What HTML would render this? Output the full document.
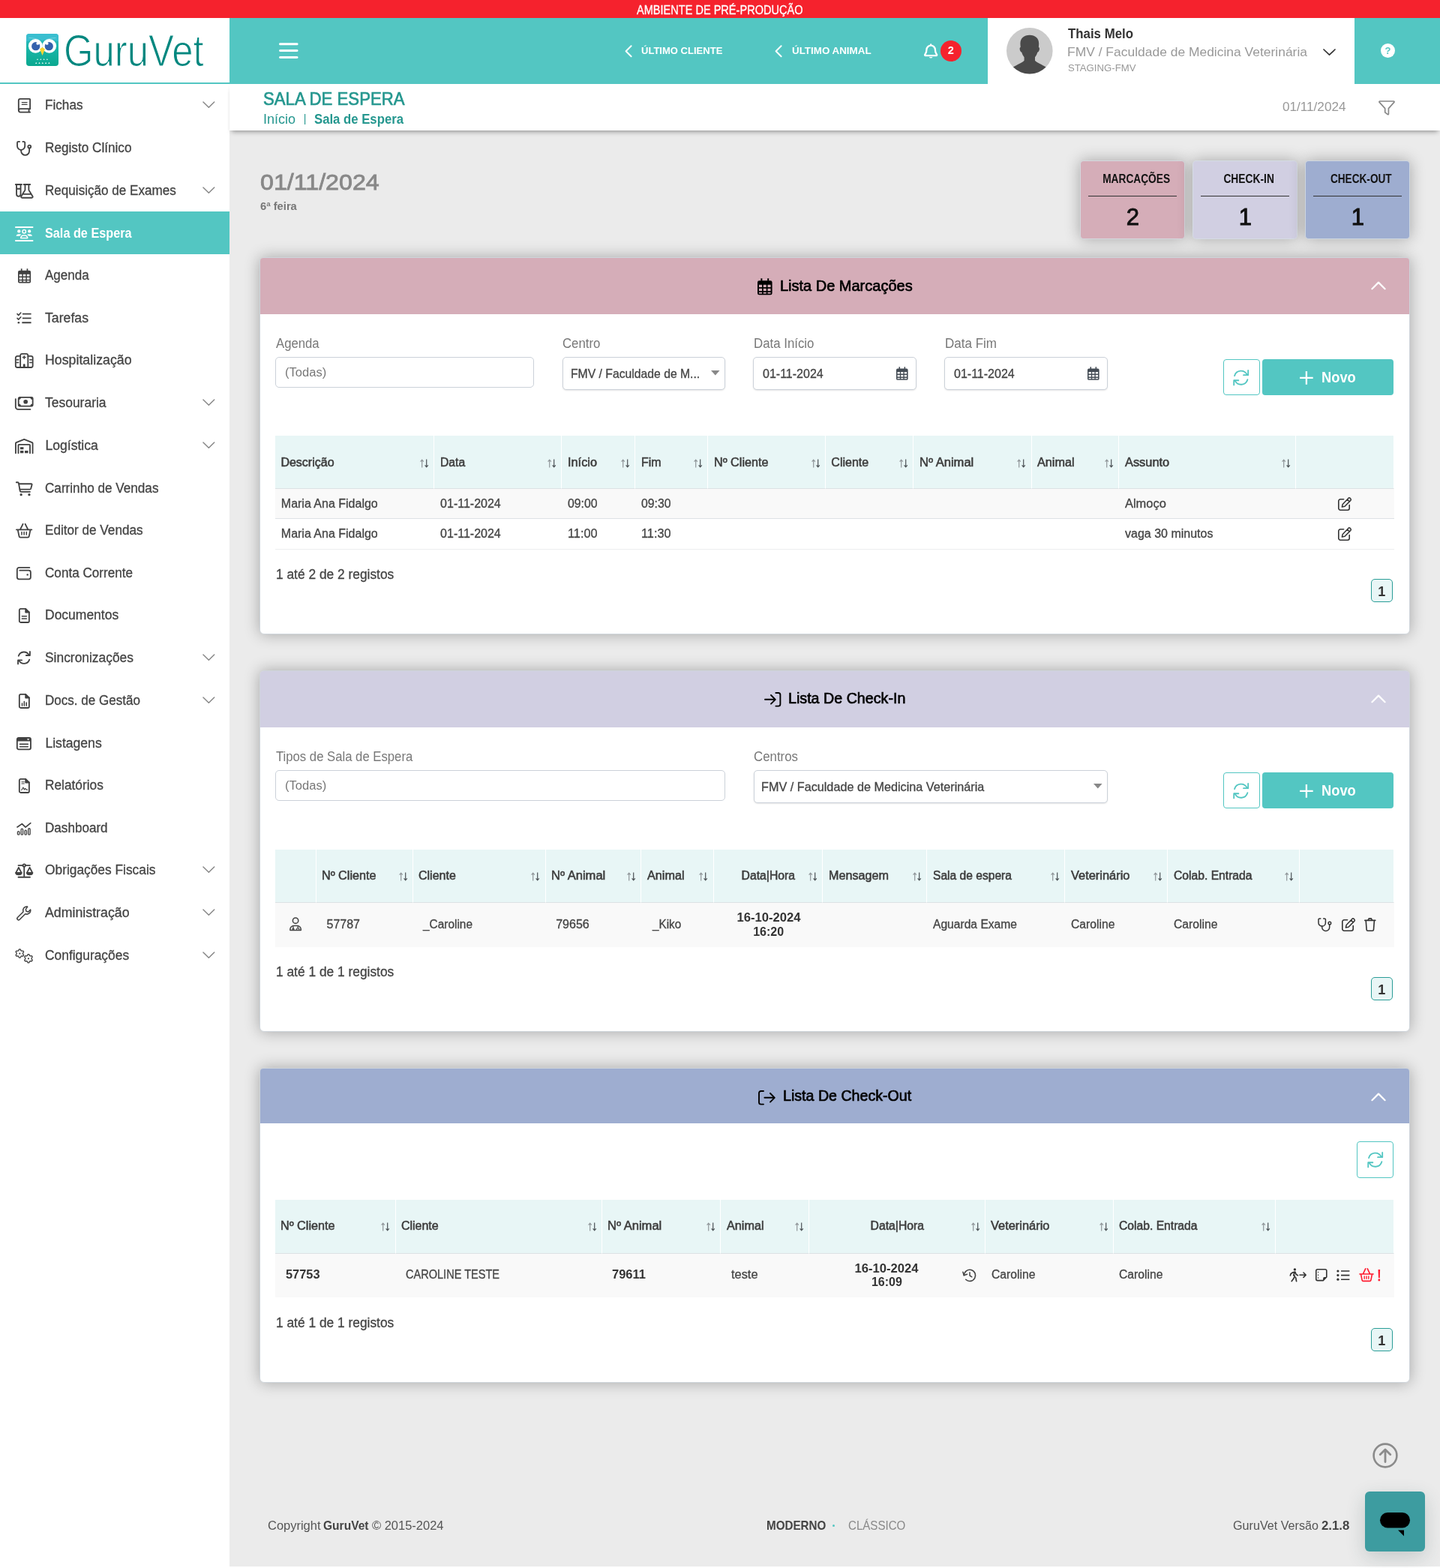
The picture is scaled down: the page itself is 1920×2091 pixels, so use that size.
<!DOCTYPE html>
<html lang="pt">
<head>
<meta charset="utf-8">
<title>GuruVet - Sala de Espera</title>
<style>
*{box-sizing:border-box;margin:0;padding:0}
html,body{width:1920px;height:2091px;overflow:hidden}
body{position:relative;background:#ebebeb;font-family:"Liberation Sans",sans-serif;color:#444}
body *{position:absolute}
.w,colgroup,col,thead,tbody,tr{position:static}
svg{overflow:visible;display:block}
span,a,h1,h2,h3,label,p,button{white-space:nowrap;font-weight:400;text-decoration:none}
ul{list-style:none}
button{border:0;background:none;font:inherit}
.panel{background:#fff;border-radius:6px;border:1px solid #cfd5db;box-shadow:0 0 20px rgba(0,0,0,.3)}
.inp{background:#fff;border:1px solid #cbd1d9;border-radius:5px}
.sel{background:#fff;border:1px solid #cbd1d9;border-radius:5px;box-shadow:0 1px 2px rgba(0,0,0,.10)}
.btn-o{background:#fff;border:1px solid #53c6c2;border-radius:4px}
.btn{background:#53c6c2;border-radius:4px}
table{border-collapse:separate;border-spacing:0;table-layout:fixed;font-size:16px}
th,td{position:relative;padding:0;text-align:left;font-weight:400}
thead th{background:#e8f6f6;border-right:1px solid #fff;border-bottom:1px solid #dbe1e4}
.pg{background:#e8f6f6;border:1px solid #2a9d97;border-radius:5px}
.card{border-radius:5px;border:1px solid rgba(214,222,228,.85);box-shadow:0 0 20px rgba(0,0,0,.3)}
</style>
</head>
<body>
<aside class="w">
<div style="left:0px;top:24px;width:306px;height:2067px;background:#fff;"></div>
<div style="left:0px;top:110px;width:306px;height:2px;background:#53c6c2;"></div>
<svg style="left:35px;top:45px" width="43" height="43" viewBox="0 0 43 43">
<defs><linearGradient id="og" x1="0" y1="0" x2="0" y2="1"><stop offset="0" stop-color="#35bcc9"/><stop offset=".45" stop-color="#19b5a8"/><stop offset="1" stop-color="#0aa88f"/></linearGradient></defs>
<rect x="0" y="0" width="43" height="43" rx="4" fill="url(#og)"/>
<path d="M0 4a4 4 0 0 1 4-4h35a4 4 0 0 1 4 4v6.500C35 7.500 28 7 21.500 9 15 7 8 7.500 0 10.500z" fill="#3bbfd0" opacity=".9"/>
<path d="M3.500 5.500c5 0 11 1 15 4M39.500 5.500c-5 0-11 1-15 4" stroke="#7fd6de" stroke-width="1" fill="none" opacity=".8"/>
<circle cx="12.300" cy="16.300" r="9.400" fill="#fff"/><circle cx="30.700" cy="16.300" r="9.400" fill="#fff"/>
<circle cx="12.700" cy="16.700" r="5.600" fill="#3461ad"/><circle cx="30.300" cy="16.700" r="5.600" fill="#3461ad"/>
<circle cx="15.300" cy="12.900" r="1.900" fill="#fff"/><circle cx="27.700" cy="12.900" r="1.900" fill="#fff"/>
<path d="M18 20.500l3.500-2.500 3.500 2.500-3.500 8.500z" fill="#f7d531"/>
<g fill="#d9f3ee"><path d="M14 35l1-2 1 2zM18.300 35l1-2 1 2zM22.600 35l1-2 1 2zM26.900 35l1-2 1 2zM12 40l1.200-2.200 1.200 2.200zM16.300 40l1.200-2.200 1.200 2.200zM20.600 40l1.200-2.200 1.200 2.200zM24.900 40l1.200-2.200 1.200 2.200zM29.200 40l1.200-2.200 1.200 2.200z"/></g>
</svg>
<a style="left:84.600px;top:33.200px;font-size:60px;line-height:70px;color:#00877f;transform:scaleX(.848);transform-origin:0 0;-webkit-text-stroke:1.200px #fff">GuruVet</a>
<ul class="w">
<li class="w"><svg style="left:23.63px;top:130.81px;color:#414141;" width="16.93" height="19.38" viewBox="0 0 16.6 19" fill="none" stroke="currentColor" stroke-width="1.8" stroke-linecap="round" stroke-linejoin="round"><path d="M15.8 14V1.6a.8.8 0 0 0-.8-.8H3A2.2 2.2 0 0 0 .8 3v13"/><path d="M15.8 13.9H3a2.15 2.15 0 0 0 0 4.3h12.8M14.3 14v4.2"/><path d="M5.2 5.5h6.6M5.2 8.2h6.6" stroke-width="1.3"/></svg><a style="left:60.4px;top:129px;font-size:17.6px;line-height:22px;color:#444;transform:scaleX(0.9742);transform-origin:0 50%;-webkit-text-stroke:0.3px currentColor;">Fichas</a><svg style="left:269.55px;top:134.5px;color:#868686;" width="16.7" height="9.6" viewBox="0 0 17.4 10" fill="none" stroke="currentColor" stroke-width="1.4" stroke-linecap="round" stroke-linejoin="round"><path d="M1 1l7.700 7.600L16.400 1" stroke-width="1.500"/></svg></li>
<li class="w"><svg style="left:21.9px;top:187.61px;color:#414141;" width="20.4" height="19.79" viewBox="0 0 20 19.4" fill="none" stroke="currentColor" stroke-width="1.8" stroke-linecap="round" stroke-linejoin="round"><path d="M4 .9H2.4A1.4 1.4 0 0 0 1 2.3v4.4a5 5 0 0 0 10 0V2.3A1.4 1.4 0 0 0 9.6.9H8.2"/><path d="M6 11.8v1.3a5.4 5.4 0 0 0 10.8 0V9.6"/><circle cx="16.9" cy="7.4" r="1.9"/></svg><a style="left:60.4px;top:186px;font-size:17.6px;line-height:22px;color:#444;transform:scaleX(0.9758);transform-origin:0 50%;-webkit-text-stroke:0.3px currentColor;">Registo Clínico</a></li>
<li class="w"><svg style="left:19.86px;top:244.61px;color:#414141;" width="24.48" height="19.79" viewBox="0 0 24 19.4" fill="none" stroke="currentColor" stroke-width="1.8" stroke-linecap="round" stroke-linejoin="round"><path d="M.8 1h8M2 1v12.8a2.7 2.7 0 0 0 5.4 0V1M2 6.6h5.4"/><path d="M11.4 1h8.4M13.2 1v7.2l-5 8.2a1.3 1.3 0 0 0 1.1 2h12.6a1.3 1.3 0 0 0 1.1-2l-5-8.2V1M10.4 13.6h10.4"/></svg><a style="left:60.4px;top:243px;font-size:17.6px;line-height:22px;color:#444;transform:scaleX(0.9711);transform-origin:0 50%;-webkit-text-stroke:0.3px currentColor;">Requisição de Exames</a><svg style="left:269.55px;top:248.5px;color:#868686;" width="16.7" height="9.6" viewBox="0 0 17.4 10" fill="none" stroke="currentColor" stroke-width="1.4" stroke-linecap="round" stroke-linejoin="round"><path d="M1 1l7.700 7.600L16.400 1" stroke-width="1.500"/></svg></li>
<li class="w"><div style="left:0px;top:282.1px;width:306px;height:56.7px;background:#53c6c2;"></div><svg style="left:19.86px;top:301.5px;color:#fff;" width="24.48" height="19.99" viewBox="0 0 24 19.6" fill="none" stroke="currentColor" stroke-width="1.8" stroke-linecap="round" stroke-linejoin="round"><path d="M.9 1h22.2M.9 18.6h22.2" stroke-width="1.8"/><circle cx="5.2" cy="6.3" r="2.1" fill="currentColor" stroke="none"/><circle cx="18.8" cy="6.3" r="2.1" fill="currentColor" stroke="none"/><circle cx="12" cy="6.6" r="2.2" stroke-width="1.5"/><path d="M1.5 12.6a3 3 0 0 1 3-2.6h2.2a3 3 0 0 1 1.6.5 5 5 0 0 0-2.2 2.1zM22.5 12.6a3 3 0 0 0-3-2.6h-2.2a3 3 0 0 0-1.6.5 5 5 0 0 1 2.2 2.1z" fill="currentColor" stroke="none"/><path d="M7.6 15.2a3.4 3.4 0 0 1 3.3-3.5h2.2a3.4 3.4 0 0 1 3.3 3.5z" stroke-width="1.5"/></svg><a style="left:60.4px;top:300px;font-size:17.6px;line-height:22px;color:#fff;font-weight:700;transform:scaleX(0.9231);transform-origin:0 50%;">Sala de Espera</a></li>
<li class="w"><svg style="left:23.53px;top:357.71px;color:#414141;" width="17.14" height="19.58" viewBox="0 0 16.8 19.2" fill="none" stroke="currentColor" stroke-width="1.8" stroke-linecap="round" stroke-linejoin="round"><path d="M4.6 .3v3M12.2 .3v3" stroke-width="1.7" stroke-linecap="butt"/><path d="M2 2.8h12.8a2 2 0 0 1 2 2v12.4a2 2 0 0 1-2 2H2a2 2 0 0 1-2-2V4.800a2 2 0 0 1 2-2zM1.7 7.6v2.700h3.500V7.600zM6.700 7.600v2.700h3.400V7.600zM11.600 7.600v2.700h3.500V7.600zM1.700 11.800v2.700h3.500v-2.700zM6.700 11.800v2.700h3.400v-2.700zM11.600 11.800v2.700h3.500v-2.700zM1.700 16v1.500h3.500V16zM6.700 16v1.500h3.400V16zM11.600 16v1.500h3.500V16z" fill="currentColor" stroke="none" fill-rule="evenodd"/></svg><a style="left:60.4px;top:356px;font-size:17.6px;line-height:22px;color:#444;transform:scaleX(0.9674);transform-origin:0 50%;-webkit-text-stroke:0.3px currentColor;">Agenda</a></li>
<li class="w"><svg style="left:21.9px;top:416.14px;color:#414141;" width="20.4" height="16.73" viewBox="0 0 20 16.4" fill="none" stroke="currentColor" stroke-width="1.8" stroke-linecap="round" stroke-linejoin="round"><path d="M7.800 2.600H19.200M7.800 8.200H19.200M7.200 14H19.200" stroke-width="1.9" stroke-linecap="butt"/><path d="M1 2.600l1.700 1.700L5.700 1M1 8.200l1.700 1.700L5.700 6.600" stroke-width="1.500"/><circle cx="2.800" cy="14" r="1.300" fill="currentColor" stroke="none"/></svg><a style="left:60.4px;top:413px;font-size:17.6px;line-height:22px;color:#444;transform:scaleX(1.0049);transform-origin:0 50%;-webkit-text-stroke:0.3px currentColor;">Tarefas</a></li>
<li class="w"><svg style="left:19.86px;top:470.61px;color:#414141;" width="24.48" height="19.79" viewBox="0 0 24 19.4" fill="none" stroke="currentColor" stroke-width="1.8" stroke-linecap="round" stroke-linejoin="round"><path d="M7 18.600V3a2.200 2.200 0 0 1 2.200-2.200h5.600A2.200 2.200 0 0 1 17 3v15.600"/><path d="M7 3.800H3A2.200 2.200 0 0 0 .8 6v10.400a2.200 2.200 0 0 0 2.200 2.200h18a2.200 2.200 0 0 0 2.200-2.200V6A2.200 2.200 0 0 0 21 3.800h-4"/><path d="M12 3.600v3.600M10.200 5.400h3.600M2 8.600h2.600M2 12.200h2.600M19.400 8.600H22M19.400 12.200H22" stroke-width="1.500"/><path d="M10.600 18.600v-3.200a1.400 1.400 0 0 1 2.800 0v3.200z" fill="currentColor" stroke="none"/></svg><a style="left:60.4px;top:469px;font-size:17.6px;line-height:22px;color:#444;transform:scaleX(1.01);transform-origin:0 50%;-webkit-text-stroke:0.3px currentColor;">Hospitalização</a></li>
<li class="w"><svg style="left:19.86px;top:528.63px;color:#414141;" width="24.48" height="17.75" viewBox="0 0 24 17.4" fill="none" stroke="currentColor" stroke-width="1.8" stroke-linecap="round" stroke-linejoin="round"><rect x="4.600" y=".8" width="18.600" height="11.600" rx="1.800"/><path d="M.8 3v10.400a3.200 3.200 0 0 0 3.200 3.200h16"/><circle cx="13.900" cy="6.600" r="2.800" fill="currentColor" stroke="none"/><path d="M4.600 .8h3.200a3.200 3.200 0 0 1-3.200 3.200zM23.200 .8H20a3.200 3.200 0 0 0 3.200 3.200zM4.600 12.400h3.200a3.200 3.200 0 0 0-3.200-3.200zM23.200 12.400H20a3.200 3.200 0 0 1 3.200-3.200z" fill="currentColor" stroke="none"/></svg><a style="left:60.4px;top:526px;font-size:17.6px;line-height:22px;color:#444;transform:scaleX(0.993);transform-origin:0 50%;-webkit-text-stroke:0.3px currentColor;">Tesouraria</a><svg style="left:269.55px;top:531.5px;color:#868686;" width="16.7" height="9.6" viewBox="0 0 17.4 10" fill="none" stroke="currentColor" stroke-width="1.4" stroke-linecap="round" stroke-linejoin="round"><path d="M1 1l7.700 7.600L16.400 1" stroke-width="1.500"/></svg></li>
<li class="w"><svg style="left:19.86px;top:584.61px;color:#414141;" width="24.48" height="19.79" viewBox="0 0 24 19.4" fill="none" stroke="currentColor" stroke-width="1.8" stroke-linecap="round" stroke-linejoin="round"><path d="M.9 19V6.200a1.200 1.200 0 0 1 .7-1.100L12 .9l10.400 4.200a1.200 1.200 0 0 1 .7 1.100V19"/><path d="M4.400 19V8.600a.8.800 0 0 1 .8-.8h13.600a.8.800 0 0 1 .8.800V19"/><path d="M6.800 11h4.400v3H6.800zM6.800 15.600h4.400V19H6.800zM12.800 15.600h4.400V19h-4.400z" fill="currentColor" stroke="none"/></svg><a style="left:60.4px;top:583px;font-size:17.6px;line-height:22px;color:#444;-webkit-text-stroke:0.3px currentColor;">Logística</a><svg style="left:269.55px;top:588.5px;color:#868686;" width="16.7" height="9.6" viewBox="0 0 17.4 10" fill="none" stroke="currentColor" stroke-width="1.4" stroke-linecap="round" stroke-linejoin="round"><path d="M1 1l7.700 7.600L16.400 1" stroke-width="1.500"/></svg></li>
<li class="w"><svg style="left:20.98px;top:641.61px;color:#414141;" width="22.24" height="19.79" viewBox="0 0 21.8 19.4" fill="none" stroke="currentColor" stroke-width="1.8" stroke-linecap="round" stroke-linejoin="round"><path d="M.8 1.200h1.800a1.200 1.200 0 0 1 1.200 1l1.800 10.200a1.400 1.400 0 0 0 1.400 1.200h11.600"/><path d="M4.200 3.200h16.200a.8.800 0 0 1 .8 1l-1.400 5.200a1.400 1.400 0 0 1-1.400 1H5.400"/><circle cx="7" cy="17.400" r="1.600" fill="currentColor" stroke="none"/><circle cx="17.600" cy="17.400" r="1.600" fill="currentColor" stroke="none"/></svg><a style="left:60.4px;top:640px;font-size:17.6px;line-height:22px;color:#444;transform:scaleX(0.9738);transform-origin:0 50%;-webkit-text-stroke:0.3px currentColor;">Carrinho de Vendas</a></li>
<li class="w"><svg style="left:20.98px;top:697.61px;color:#414141;" width="22.24" height="19.79" viewBox="0 0 21.8 19.4" fill="none" stroke="currentColor" stroke-width="1.8" stroke-linecap="round" stroke-linejoin="round"><path d="M.9 8.200h20M5.800 8L9.400 .8M16 8L12.400 .8M2.700 8.400l1.700 8.400a1.700 1.700 0 0 0 1.700 1.400h9.600a1.700 1.700 0 0 0 1.700-1.400l1.700-8.400"/><path d="M7.800 11.400v3.400M10.900 11.400v3.400M14 11.400v3.400" stroke-width="1.500"/></svg><a style="left:60.4px;top:696px;font-size:17.6px;line-height:22px;color:#444;transform:scaleX(0.9742);transform-origin:0 50%;-webkit-text-stroke:0.3px currentColor;">Editor de Vendas</a></li>
<li class="w"><svg style="left:22.21px;top:755.93px;color:#414141;" width="19.79" height="17.14" viewBox="0 0 19.4 16.8" fill="none" stroke="currentColor" stroke-width="1.8" stroke-linecap="round" stroke-linejoin="round"><path d="M17 .9H3.400A2.600 2.600 0 0 0 .8 3.500v10A2.500 2.500 0 0 0 3.300 16H16a2.500 2.500 0 0 0 2.500-2.500V7.100A2.500 2.500 0 0 0 16 4.600H4.200"/><circle cx="14.400" cy="10.200" r="1.200" fill="currentColor" stroke="none"/></svg><a style="left:60.4px;top:753px;font-size:17.6px;line-height:22px;color:#444;transform:scaleX(0.9732);transform-origin:0 50%;-webkit-text-stroke:0.3px currentColor;">Conta Corrente</a></li>
<li class="w"><svg style="left:24.76px;top:810.61px;color:#414141;" width="14.69" height="19.79" viewBox="0 0 14.4 19.4" fill="none" stroke="currentColor" stroke-width="1.8" stroke-linecap="round" stroke-linejoin="round"><path d="M9 .8H2.600A1.800 1.800 0 0 0 .8 2.600v14.200a1.800 1.800 0 0 0 1.800 1.800h9.200a1.800 1.800 0 0 0 1.800-1.800V5.400z"/><path d="M9 .8v4.600h4.600z" fill="currentColor" stroke="none"/><path d="M9 .8v4.600h4.600"/><path d="M4.200 10.600h6M4.200 13.800h6" stroke-width="1.400"/></svg><a style="left:60.4px;top:809px;font-size:17.6px;line-height:22px;color:#444;transform:scaleX(0.9939);transform-origin:0 50%;-webkit-text-stroke:0.3px currentColor;">Documentos</a></li>
<li class="w"><svg style="left:23.12px;top:868.32px;color:#414141;" width="17.95" height="18.36" viewBox="0 0 17.6 18" fill="none" stroke="currentColor" stroke-width="1.8" stroke-linecap="round" stroke-linejoin="round"><path d="M1.700 6.600A7.400 7.400 0 0 1 15.400 5.600M15.900 11.400A7.400 7.400 0 0 1 2.200 12.400"/><path d="M16.600 .9v5h-5M1 17.100v-5h5"/></svg><a style="left:60.4px;top:866px;font-size:17.6px;line-height:22px;color:#444;transform:scaleX(0.9887);transform-origin:0 50%;-webkit-text-stroke:0.3px currentColor;">Sincronizações</a><svg style="left:269.55px;top:871.5px;color:#868686;" width="16.7" height="9.6" viewBox="0 0 17.4 10" fill="none" stroke="currentColor" stroke-width="1.4" stroke-linecap="round" stroke-linejoin="round"><path d="M1 1l7.700 7.600L16.400 1" stroke-width="1.500"/></svg></li>
<li class="w"><svg style="left:24.76px;top:924.61px;color:#414141;" width="14.69" height="19.79" viewBox="0 0 14.4 19.4" fill="none" stroke="currentColor" stroke-width="1.8" stroke-linecap="round" stroke-linejoin="round"><path d="M9 .8H2.600A1.800 1.800 0 0 0 .8 2.600v14.200a1.800 1.800 0 0 0 1.800 1.800h9.200a1.800 1.800 0 0 0 1.800-1.800V5.400z"/><path d="M9 .8v4.600h4.600z" fill="currentColor" stroke="none"/><path d="M9 .8v4.600h4.600"/><path d="M4.400 12.800v3M7.200 10.400v5.400M10 11.800v4" stroke-width="1.500"/></svg><a style="left:60.4px;top:923px;font-size:17.6px;line-height:22px;color:#444;transform:scaleX(0.968);transform-origin:0 50%;-webkit-text-stroke:0.3px currentColor;">Docs. de Gestão</a><svg style="left:269.55px;top:928.5px;color:#868686;" width="16.7" height="9.6" viewBox="0 0 17.4 10" fill="none" stroke="currentColor" stroke-width="1.4" stroke-linecap="round" stroke-linejoin="round"><path d="M1 1l7.700 7.600L16.400 1" stroke-width="1.500"/></svg></li>
<li class="w"><svg style="left:22.21px;top:982.93px;color:#414141;" width="19.79" height="17.14" viewBox="0 0 19.4 16.8" fill="none" stroke="currentColor" stroke-width="1.8" stroke-linecap="round" stroke-linejoin="round"><rect x=".8" y=".8" width="17.800" height="15.200" rx="2"/><path d="M.8 2.800a2 2 0 0 1 2-2h13.800a2 2 0 0 1 2 2v2.600H.8z" fill="currentColor" stroke="none"/><path d="M13.600 2.200h3.400l-1.700 1.900z" fill="#fff" stroke="none"/><path d="M4.400 9.200h10.600M4.400 12.600h10.600" stroke-width="1.500"/></svg><a style="left:60.4px;top:980px;font-size:17.6px;line-height:22px;color:#444;-webkit-text-stroke:0.3px currentColor;">Listagens</a></li>
<li class="w"><svg style="left:24.76px;top:1037.61px;color:#414141;" width="14.69" height="19.79" viewBox="0 0 14.4 19.4" fill="none" stroke="currentColor" stroke-width="1.8" stroke-linecap="round" stroke-linejoin="round"><path d="M9 .8H2.600A1.800 1.800 0 0 0 .8 2.600v14.200a1.800 1.800 0 0 0 1.800 1.800h9.200a1.800 1.800 0 0 0 1.800-1.800V5.400z"/><path d="M9 .8v4.600h4.600z" fill="currentColor" stroke="none"/><path d="M9 .8v4.600h4.600"/><path d="M3.800 4.600h3.400M3.800 6.800h3.400" stroke-width="1"/><path d="M3.600 15.400l2.200-3.600 1.400 3 1.200-1.600 1.800 1.600h1.200" stroke-width="1.100"/></svg><a style="left:60.4px;top:1036px;font-size:17.6px;line-height:22px;color:#444;transform:scaleX(0.9819);transform-origin:0 50%;-webkit-text-stroke:0.3px currentColor;">Relatórios</a></li>
<li class="w"><svg style="left:22.21px;top:1095.52px;color:#414141;" width="19.79" height="17.95" viewBox="0 0 19.4 17.6" fill="none" stroke="currentColor" stroke-width="1.8" stroke-linecap="round" stroke-linejoin="round"><path d="M1 6.800l6.200-4.200 4.600 4.400L18.400 1.600" stroke-width="1.700"/><rect x="1.400" y="12.400" width="2.400" height="4.400" rx="1.200" stroke-width="1.300"/><rect x="6" y="9" width="2.400" height="7.800" rx="1.200" stroke-width="1.300"/><rect x="10.800" y="11" width="2.400" height="5.800" rx="1.200" stroke-width="1.300"/><rect x="15.400" y="8.600" width="2.400" height="8.200" rx="1.200" stroke-width="1.300"/></svg><a style="left:60.4px;top:1093px;font-size:17.6px;line-height:22px;color:#444;transform:scaleX(0.9709);transform-origin:0 50%;-webkit-text-stroke:0.3px currentColor;">Dashboard</a></li>
<li class="w"><svg style="left:19.86px;top:1150.61px;color:#414141;" width="24.48" height="19.79" viewBox="0 0 24 19.4" fill="none" stroke="currentColor" stroke-width="1.8" stroke-linecap="round" stroke-linejoin="round"><path d="M4.400 3h5.800M13.800 3h5.800M4.400 18.400h15.200M12 4.800v13.600"/><circle cx="12" cy="3" r="1.700"/><path d="M4.800 5.800L1.200 12.600M4.800 5.800l3.600 6.800M19.200 5.800l-3.600 6.800M19.200 5.800l3.600 6.800"/><path d="M.8 12.400h8a4 2.900 0 0 1-8 0zM15.200 12.400h8a4 2.900 0 0 1-8 0z" fill="currentColor" stroke="none"/><path d="M.8 12.400h8a4 2.900 0 0 1-8 0zM15.200 12.400h8a4 2.900 0 0 1-8 0z" stroke-width="1.200"/></svg><a style="left:60.4px;top:1149px;font-size:17.6px;line-height:22px;color:#444;transform:scaleX(0.9856);transform-origin:0 50%;-webkit-text-stroke:0.3px currentColor;">Obrigações Fiscais</a><svg style="left:269.55px;top:1154.5px;color:#868686;" width="16.7" height="9.6" viewBox="0 0 17.4 10" fill="none" stroke="currentColor" stroke-width="1.4" stroke-linecap="round" stroke-linejoin="round"><path d="M1 1l7.700 7.600L16.400 1" stroke-width="1.500"/></svg></li>
<li class="w"><svg style="left:22.21px;top:1207.61px;color:#414141;" width="19.79" height="19.79" viewBox="0 0 19.4 19.4" fill="none" stroke="currentColor" stroke-width="1.8" stroke-linecap="round" stroke-linejoin="round"><path d="M14.400 1.100a5 5 0 0 0-5.600 6.700L1.400 15.200a1.900 1.900 0 0 0 2.700 2.700l7.400-7.400a5 5 0 0 0 6.800-5.500l-2.900 2.900-2.600-.7-.7-2.600z" stroke-width="1.500"/></svg><a style="left:60.4px;top:1206px;font-size:17.6px;line-height:22px;color:#444;transform:scaleX(1.0097);transform-origin:0 50%;-webkit-text-stroke:0.3px currentColor;">Administração</a><svg style="left:269.55px;top:1211.5px;color:#868686;" width="16.7" height="9.6" viewBox="0 0 17.4 10" fill="none" stroke="currentColor" stroke-width="1.4" stroke-linecap="round" stroke-linejoin="round"><path d="M1 1l7.700 7.600L16.400 1" stroke-width="1.500"/></svg></li>
<li class="w"><svg style="left:19.66px;top:1264.5px;color:#414141;" width="24.89" height="19.99" viewBox="0 0 24.4 19.6" fill="none" stroke="currentColor" stroke-width="1.8" stroke-linecap="round" stroke-linejoin="round"><path d="M5.47 0.85L6.93 0.85L7.79 2.57L8.72 3.11L10.64 2.99L11.37 4.26L10.31 5.86L10.31 6.94L11.37 8.54L10.64 9.81L8.72 9.69L7.79 10.23L6.93 11.95L5.47 11.95L4.61 10.23L3.68 9.69L1.76 9.81L1.03 8.54L2.09 6.94L2.09 5.86L1.03 4.26L1.76 2.99L3.68 3.11L4.61 2.57z" stroke-width="1.3" stroke-linejoin="round"/><circle cx="6.20" cy="6.40" r="1.10" fill="currentColor" stroke="none"/><path d="M16.87 7.45L18.33 7.45L19.19 9.17L20.12 9.71L22.04 9.59L22.77 10.86L21.71 12.46L21.71 13.54L22.77 15.14L22.04 16.41L20.12 16.29L19.19 16.83L18.33 18.55L16.87 18.55L16.01 16.83L15.08 16.29L13.16 16.41L12.43 15.14L13.49 13.54L13.49 12.46L12.43 10.86L13.16 9.59L15.08 9.71L16.01 9.17z" stroke-width="1.3" stroke-linejoin="round"/><circle cx="17.60" cy="13.00" r="1.10" fill="currentColor" stroke="none"/></svg><a style="left:60.4px;top:1263px;font-size:17.6px;line-height:22px;color:#444;transform:scaleX(0.9878);transform-origin:0 50%;-webkit-text-stroke:0.3px currentColor;">Configurações</a><svg style="left:269.55px;top:1268.5px;color:#868686;" width="16.7" height="9.6" viewBox="0 0 17.4 10" fill="none" stroke="currentColor" stroke-width="1.4" stroke-linecap="round" stroke-linejoin="round"><path d="M1 1l7.700 7.600L16.400 1" stroke-width="1.500"/></svg></li>
</ul>
</aside>
<div class="w">
<div style="left:306px;top:112px;width:1614px;height:62px;background:#fff;box-shadow:0 5px 6px -3px rgba(0,0,0,.34),0 1px 3px rgba(0,0,0,.03);"></div>
<h1 style="left:351.3px;top:116px;font-size:24.5px;line-height:31px;color:#25978f;transform:scaleX(0.9047);transform-origin:0 50%;-webkit-text-stroke:0.7px currentColor;">SALA DE ESPERA</h1>
<a style="left:350.9px;top:147px;font-size:18px;line-height:24px;color:#25978f;">Início</a>
<span style="left:404.8px;top:149.4px;font-size:14px;line-height:18px;color:#25978f;">|</span>
<span style="left:419px;top:147px;font-size:18px;line-height:24px;color:#25978f;font-weight:700;transform:scaleX(0.9291);transform-origin:0 50%;">Sala de Espera</span>
<span style="left:1710px;top:131px;font-size:16.5px;line-height:22px;color:#999;transform:scaleX(1.0386);transform-origin:0 50%;">01/11/2024</span>
<svg style="left:1838.2px;top:133.9px;color:#888;" width="22" height="19.6" viewBox="0 0 22 19.6" fill="none" stroke="currentColor" stroke-width="1.7" stroke-linecap="round" stroke-linejoin="round"><path d="M1.800 1h18.400a.8.800 0 0 1 .6 1.400l-7.400 8.200v7.400a.7.700 0 0 1-1.100.6l-3.200-2.400a.9.900 0 0 1-.4-.7v-4.900L1.200 2.400A.8.800 0 0 1 1.800 1z" stroke-width="1.700"/></svg>
</div>
<header class="w">
<div style="left:306px;top:24px;width:1614px;height:88px;background:#53c6c2;"></div>
<svg style="left:371.9px;top:57.2px;color:#fff;" width="25.6" height="21.2" viewBox="0 0 25.6 21.2" fill="none" stroke="currentColor" stroke-width="3" stroke-linecap="round" stroke-linejoin="round"><path d="M1.500 1.700h22.600M1.500 10.600h22.600M1.500 19.500h22.600" stroke-width="3"/></svg>
<svg style="left:832.8px;top:59.8px;color:#fff;" width="10" height="16.4" viewBox="0 0 10 16.4" fill="none" stroke="currentColor" stroke-width="2" stroke-linecap="round" stroke-linejoin="round"><path d="M8.600 1.200L1.600 8.200l7 7" stroke-width="2"/></svg>
<a style="left:855.4px;top:59px;font-size:13.6px;line-height:17px;color:#fff;font-weight:700;transform:scaleX(0.9587);transform-origin:0 50%;">ÚLTIMO CLIENTE</a>
<svg style="left:1033.2px;top:59.8px;color:#fff;" width="10" height="16.4" viewBox="0 0 10 16.4" fill="none" stroke="currentColor" stroke-width="2" stroke-linecap="round" stroke-linejoin="round"><path d="M8.600 1.200L1.600 8.200l7 7" stroke-width="2"/></svg>
<a style="left:1055.8px;top:59px;font-size:13.6px;line-height:17px;color:#fff;font-weight:700;transform:scaleX(0.9845);transform-origin:0 50%;">ÚLTIMO ANIMAL</a>
<svg style="left:1231.53px;top:57.5px;color:#fff;" width="18.33" height="20.6" viewBox="0 0 17.8 20" fill="none" stroke="currentColor" stroke-width="1.9" stroke-linecap="round" stroke-linejoin="round"><path d="M8.900 1.400v1.200M8.900 2.600a5.600 5.600 0 0 0-5.600 5.600c0 3.800-1.200 5-2 6a.8.800 0 0 0 .6 1.400h14a.8.800 0 0 0 .6-1.400c-.8-1-2-2.200-2-6a5.600 5.600 0 0 0-5.600-5.600z" stroke-width="2.200"/><path d="M6.700 17.400a2.300 2.300 0 0 0 4.400 0z" fill="currentColor" stroke="none"/></svg>
<div style="left:1254px;top:53.9px;width:28px;height:28px;background:#f5222d;border-radius:50%;"></div>
<span style="left:1263.77px;top:57.4px;font-size:14.5px;line-height:20px;color:#fff;font-weight:700;">2</span>
<div style="left:1317px;top:24px;width:489px;height:88px;background:#fff;"></div>
<svg style="left:1342.300px;top:37.100px" width="61.600" height="61.600" viewBox="0 0 61.600 61.600"><defs><clipPath id="av"><circle cx="30.800" cy="30.800" r="30.800"/></clipPath></defs><circle cx="30.800" cy="30.800" r="30.800" fill="#cbcbcb"/><g clip-path="url(#av)" fill="#4a4a4a"><path d="M30.800 9.800c-7.400 0-12.600 4.200-12.400 11.600l.3 4.600c-1.200.6-1.300 2.200-.8 3.800.5 1.800 1.400 2.800 2.400 3 .6 2.600 1.800 4.800 3.300 6.400v4.600c-3 3.400-9.400 5.400-14.600 8.600V64h43.600V52.400c-5.200-3.200-11.600-5.200-14.600-8.600v-4.600c1.500-1.600 2.700-3.800 3.300-6.400 1-.2 1.900-1.200 2.400-3 .5-1.600.4-3.200-.8-3.800l.3-4.600c.2-7.400-5-11.600-12.400-11.600z"/></g></svg>
<span style="left:1424.3px;top:33px;font-size:18px;line-height:24px;color:#333;font-weight:700;transform:scaleX(0.9353);transform-origin:0 50%;">Thais Melo</span>
<span style="left:1423.2px;top:58px;font-size:17px;line-height:23px;color:#999;transform:scaleX(1.0262);transform-origin:0 50%;">FMV / Faculdade de Medicina Veterinária</span>
<span style="left:1423.6px;top:82px;font-size:13.4px;line-height:17px;color:#999;transform:scaleX(0.9831);transform-origin:0 50%;">STAGING-FMV</span>
<svg style="left:1763.8px;top:64.5px;color:#333;" width="17" height="9.4" viewBox="0 0 17 9.4" fill="none" stroke="currentColor" stroke-width="1.7" stroke-linecap="round" stroke-linejoin="round"><path d="M1 1l7.500 7.200L16 1" stroke-width="1.700"/></svg>
<div style="left:1840.7px;top:58.1px;width:19.4px;height:19.4px;background:#fff;border-radius:50%;"></div>
<span style="left:1846.43px;top:59.4px;font-size:13px;line-height:17px;color:#53c6c2;font-weight:700;">?</span>
</header>
<div class="w">
<div style="left:0px;top:0px;width:1920px;height:24px;background:#f5222d;"></div><span style="left:849px;top:2px;font-size:17px;line-height:23px;color:#fff;transform:scaleX(0.8558);transform-origin:0 50%;-webkit-text-stroke:0.3px currentColor;">AMBIENTE DE PRÉ-PRODUÇÃO</span>
</div>
<main class="w">
<h2 style="left:347px;top:223.8px;font-size:29.2px;line-height:38px;color:#888;transform:scaleX(1.103);transform-origin:0 50%;-webkit-text-stroke:0.8px currentColor;">01/11/2024</h2>
<span style="left:346.6px;top:265px;font-size:14.5px;line-height:20px;color:#777;font-weight:700;transform:scaleX(1.0148);transform-origin:0 50%;">6ª feira</span>
<div class="w">
<div class="card" style="left:1440.3px;top:214.3px;width:140px;height:104.6px;background:#d5adb8;"></div><span style="left:1464.07px;top:228px;font-size:15.6px;line-height:21px;color:#111;font-weight:700;transform:scaleX(0.88);transform-origin:50% 50%;">MARCAÇÕES</span><div style="left:1451.3px;top:260.8px;width:118px;height:1px;background:#333;"></div><span style="left:1501.68px;top:270px;font-size:31px;line-height:39px;color:#111;-webkit-text-stroke:0.9px currentColor;">2</span>
</div>
<div class="w">
<div class="card" style="left:1590.3px;top:214.3px;width:140px;height:104.6px;background:#d1cfe2;"></div><span style="left:1626.77px;top:228px;font-size:15.6px;line-height:21px;color:#111;font-weight:700;transform:scaleX(0.8851);transform-origin:50% 50%;">CHECK-IN</span><div style="left:1601.3px;top:260.8px;width:118px;height:1px;background:#333;"></div><span style="left:1651.68px;top:270px;font-size:31px;line-height:39px;color:#111;-webkit-text-stroke:0.9px currentColor;">1</span>
</div>
<div class="w">
<div class="card" style="left:1740.3px;top:214.3px;width:140px;height:104.6px;background:#9eadd0;"></div><span style="left:1767.9px;top:228px;font-size:15.6px;line-height:21px;color:#111;font-weight:700;transform:scaleX(0.874);transform-origin:50% 50%;">CHECK-OUT</span><div style="left:1751.3px;top:260.8px;width:118px;height:1px;background:#333;"></div><span style="left:1801.68px;top:270px;font-size:31px;line-height:39px;color:#111;-webkit-text-stroke:0.9px currentColor;">1</span>
</div>
<section class="w">
<div class="panel" style="left:346.3px;top:343.3px;width:1533.7px;height:503px;"></div><div style="left:347.3px;top:344.3px;width:1531.7px;height:74.4px;background:#d5adb8;border-radius:4px 4px 0 0;"></div><svg style="left:1010.01px;top:370.62px;color:#000;" width="19.57" height="22.37" viewBox="0 0 16.8 19.2" fill="none" stroke="currentColor" stroke-width="1.6" stroke-linecap="round" stroke-linejoin="round"><path d="M4.6 .3v3M12.2 .3v3" stroke-width="1.7" stroke-linecap="butt"/><path d="M2 2.8h12.8a2 2 0 0 1 2 2v12.4a2 2 0 0 1-2 2H2a2 2 0 0 1-2-2V4.800a2 2 0 0 1 2-2zM1.7 7.6v2.700h3.500V7.600zM6.700 7.600v2.700h3.400V7.600zM11.600 7.600v2.700h3.500V7.600zM1.700 11.800v2.700h3.500v-2.700zM6.700 11.800v2.700h3.400v-2.700zM11.600 11.800v2.700h3.500v-2.700zM1.700 16v1.500h3.500V16zM6.700 16v1.500h3.400V16zM11.600 16v1.500h3.500V16z" fill="currentColor" stroke="none" fill-rule="evenodd"/></svg><h3 style="left:1039.9px;top:368px;font-size:20px;line-height:26px;color:#000;-webkit-text-stroke:0.65px currentColor;">Lista De Marcações</h3><svg style="left:1827.8px;top:374.8px;color:#fff;" width="20" height="11.6" viewBox="0 0 20 11.6" fill="none" stroke="currentColor" stroke-width="2.1" stroke-linecap="round" stroke-linejoin="round"><path d="M1.400 10.200L10 1.600l8.600 8.600" stroke-width="2.200"/></svg>
<label style="left:367.7px;top:447px;font-size:17.6px;line-height:22px;color:#787878;transform:scaleX(0.9492);transform-origin:0 50%;">Agenda</label>
<div class="inp" style="left:367.3px;top:476.3px;width:344.4px;height:40.4px;"></div><span style="left:379.7px;top:486px;font-size:16px;line-height:21px;color:#777;transform:scaleX(1.0346);transform-origin:0 50%;">(Todas)</span>
<label style="left:750.4px;top:447px;font-size:17.6px;line-height:22px;color:#787878;transform:scaleX(0.9541);transform-origin:0 50%;">Centro</label>
<div class="sel" style="left:750.3px;top:476.3px;width:216.5px;height:43.5px;"></div><span style="left:761.1px;top:487px;font-size:16.4px;line-height:22px;color:#444;transform:scaleX(0.9596);transform-origin:0 50%;-webkit-text-stroke:0.3px currentColor;">FMV / Faculdade de M...</span><svg style="left:948.2px;top:493.9px" width="11.600" height="6.400" viewBox="0 0 11.600 6.400"><path d="M0 0h11.600L5.800 6.400z" fill="#888"/></svg>
<label style="left:1005px;top:447px;font-size:17.6px;line-height:22px;color:#787878;transform:scaleX(0.9568);transform-origin:0 50%;">Data Início</label>
<div class="sel" style="left:1003.8px;top:476.3px;width:218.1px;height:43.5px;"></div><span style="left:1017.1px;top:487px;font-size:16.4px;line-height:22px;color:#444;transform:scaleX(0.9773);transform-origin:0 50%;-webkit-text-stroke:0.3px currentColor;">01-11-2024</span><svg style="left:1195.19px;top:488.52px;color:#444c55;" width="15.62" height="17.86" viewBox="0 0 16.8 19.2" fill="none" stroke="currentColor" stroke-width="1.6" stroke-linecap="round" stroke-linejoin="round"><path d="M4.6 .3v3M12.2 .3v3" stroke-width="1.7" stroke-linecap="butt"/><path d="M2 2.8h12.8a2 2 0 0 1 2 2v12.4a2 2 0 0 1-2 2H2a2 2 0 0 1-2-2V4.800a2 2 0 0 1 2-2zM1.7 7.6v2.700h3.500V7.600zM6.700 7.600v2.700h3.400V7.600zM11.600 7.600v2.700h3.500V7.600zM1.700 11.800v2.700h3.500v-2.700zM6.700 11.800v2.700h3.400v-2.700zM11.600 11.800v2.700h3.500v-2.700zM1.700 16v1.500h3.500V16zM6.700 16v1.500h3.400V16zM11.600 16v1.500h3.500V16z" fill="currentColor" stroke="none" fill-rule="evenodd"/></svg>
<label style="left:1259.8px;top:447px;font-size:17.6px;line-height:22px;color:#787878;transform:scaleX(0.9665);transform-origin:0 50%;">Data Fim</label>
<div class="sel" style="left:1258.8px;top:476.3px;width:218.1px;height:43.5px;"></div><span style="left:1272.1px;top:487px;font-size:16.4px;line-height:22px;color:#444;transform:scaleX(0.9773);transform-origin:0 50%;-webkit-text-stroke:0.3px currentColor;">01-11-2024</span><svg style="left:1450.19px;top:488.52px;color:#444c55;" width="15.62" height="17.86" viewBox="0 0 16.8 19.2" fill="none" stroke="currentColor" stroke-width="1.6" stroke-linecap="round" stroke-linejoin="round"><path d="M4.6 .3v3M12.2 .3v3" stroke-width="1.7" stroke-linecap="butt"/><path d="M2 2.8h12.8a2 2 0 0 1 2 2v12.4a2 2 0 0 1-2 2H2a2 2 0 0 1-2-2V4.800a2 2 0 0 1 2-2zM1.7 7.6v2.700h3.500V7.600zM6.700 7.600v2.700h3.400V7.600zM11.600 7.600v2.700h3.500V7.600zM1.700 11.800v2.700h3.500v-2.700zM6.700 11.800v2.700h3.400v-2.700zM11.600 11.800v2.700h3.500v-2.700zM1.700 16v1.500h3.500V16zM6.700 16v1.500h3.400V16zM11.600 16v1.500h3.500V16z" fill="currentColor" stroke="none" fill-rule="evenodd"/></svg>
<button class="btn-o" style="left:1631.3px;top:479.1px;width:48.6px;height:47.6px;"></button><svg style="left:1644.49px;top:492.69px;color:#53c6c2;" width="21.42" height="21.42" viewBox="0 0 21 21" fill="none" stroke="currentColor" stroke-width="1.8" stroke-linecap="round" stroke-linejoin="round"><path d="M2 8A8.800 8.800 0 0 1 18.400 6.600M19 13A8.800 8.800 0 0 1 2.600 14.400" stroke-width="1.800"/><path d="M19.800 1v6h-6M1.200 20v-6h6" stroke-width="1.800"/></svg>
<button class="btn" style="left:1683px;top:479.1px;width:175px;height:47.6px;"></button><svg style="left:1732.3px;top:494px;color:#fff;" width="19.8" height="19.8" viewBox="0 0 18 18" fill="none" stroke="currentColor" stroke-width="2" stroke-linecap="round" stroke-linejoin="round"><path d="M9 1v16M1 9h16" stroke-width="2.100" stroke-linecap="butt"/></svg><span style="left:1762.4px;top:490px;font-size:20px;line-height:26px;color:#fff;font-weight:700;transform:scaleX(0.916);transform-origin:0 50%;">Novo</span>
<table style="left:367px;top:581px;width:1491.6px">
<colgroup><col style="width:212.3px"><col style="width:170px"><col style="width:97.9px"><col style="width:97.1px"><col style="width:156.7px"><col style="width:117.2px"><col style="width:157.4px"><col style="width:116.7px"><col style="width:236px"><col style="width:130.3px"></colgroup>
<thead><tr><th style="height:71px"><span style="left:7.4px;top:25px;font-size:16px;line-height:21px;color:#3d3d3d;-webkit-text-stroke:0.55px currentColor;">Descrição</span><svg style="left:193.2px;top:30.6px" width="11.400" height="12" viewBox="0 0 11.400 12" fill="none"><path d="M2.700 11.600V1.400M.6 3.600L2.700 1.200l2.100 2.400" stroke="#90969a" stroke-width="1.200"/><path d="M8.700 .4v10.200M6.600 8.400l2.100 2.400 2.100-2.400" stroke="#4d5357" stroke-width="1.200"/></svg></th><th style="height:71px"><span style="left:7.4px;top:25px;font-size:16px;line-height:21px;color:#3d3d3d;transform:scaleX(0.9823);transform-origin:0 50%;-webkit-text-stroke:0.55px currentColor;">Data</span><svg style="left:150.9px;top:30.6px" width="11.400" height="12" viewBox="0 0 11.400 12" fill="none"><path d="M2.700 11.600V1.400M.6 3.600L2.700 1.200l2.100 2.400" stroke="#90969a" stroke-width="1.200"/><path d="M8.700 .4v10.200M6.600 8.400l2.100 2.400 2.100-2.400" stroke="#4d5357" stroke-width="1.200"/></svg></th><th style="height:71px"><span style="left:7.4px;top:25px;font-size:16px;line-height:21px;color:#3d3d3d;transform:scaleX(1.0198);transform-origin:0 50%;-webkit-text-stroke:0.55px currentColor;">Início</span><svg style="left:78.8px;top:30.6px" width="11.400" height="12" viewBox="0 0 11.400 12" fill="none"><path d="M2.700 11.600V1.400M.6 3.600L2.700 1.200l2.100 2.400" stroke="#90969a" stroke-width="1.200"/><path d="M8.700 .4v10.200M6.600 8.400l2.100 2.400 2.100-2.400" stroke="#4d5357" stroke-width="1.200"/></svg></th><th style="height:71px"><span style="left:7.4px;top:25px;font-size:16px;line-height:21px;color:#3d3d3d;transform:scaleX(0.9941);transform-origin:0 50%;-webkit-text-stroke:0.55px currentColor;">Fim</span><svg style="left:78px;top:30.6px" width="11.400" height="12" viewBox="0 0 11.400 12" fill="none"><path d="M2.700 11.600V1.400M.6 3.600L2.700 1.200l2.100 2.400" stroke="#90969a" stroke-width="1.200"/><path d="M8.700 .4v10.200M6.600 8.400l2.100 2.400 2.100-2.400" stroke="#4d5357" stroke-width="1.200"/></svg></th><th style="height:71px"><span style="left:7.4px;top:25px;font-size:16px;line-height:21px;color:#3d3d3d;transform:scaleX(1.0119);transform-origin:0 50%;-webkit-text-stroke:0.55px currentColor;">Nº Cliente</span><svg style="left:137.6px;top:30.6px" width="11.400" height="12" viewBox="0 0 11.400 12" fill="none"><path d="M2.700 11.600V1.400M.6 3.600L2.700 1.200l2.100 2.400" stroke="#90969a" stroke-width="1.200"/><path d="M8.700 .4v10.200M6.600 8.400l2.100 2.400 2.100-2.400" stroke="#4d5357" stroke-width="1.200"/></svg></th><th style="height:71px"><span style="left:7.4px;top:25px;font-size:16px;line-height:21px;color:#3d3d3d;-webkit-text-stroke:0.55px currentColor;">Cliente</span><svg style="left:98.1px;top:30.6px" width="11.400" height="12" viewBox="0 0 11.400 12" fill="none"><path d="M2.700 11.600V1.400M.6 3.600L2.700 1.200l2.100 2.400" stroke="#90969a" stroke-width="1.200"/><path d="M8.700 .4v10.200M6.600 8.400l2.100 2.400 2.100-2.400" stroke="#4d5357" stroke-width="1.200"/></svg></th><th style="height:71px"><span style="left:7.4px;top:25px;font-size:16px;line-height:21px;color:#3d3d3d;transform:scaleX(1.0348);transform-origin:0 50%;-webkit-text-stroke:0.55px currentColor;">Nº Animal</span><svg style="left:138.3px;top:30.6px" width="11.400" height="12" viewBox="0 0 11.400 12" fill="none"><path d="M2.700 11.600V1.400M.6 3.600L2.700 1.200l2.100 2.400" stroke="#90969a" stroke-width="1.200"/><path d="M8.700 .4v10.200M6.600 8.400l2.100 2.400 2.100-2.400" stroke="#4d5357" stroke-width="1.200"/></svg></th><th style="height:71px"><span style="left:7.4px;top:25px;font-size:16px;line-height:21px;color:#3d3d3d;transform:scaleX(1.0121);transform-origin:0 50%;-webkit-text-stroke:0.55px currentColor;">Animal</span><svg style="left:97.6px;top:30.6px" width="11.400" height="12" viewBox="0 0 11.400 12" fill="none"><path d="M2.700 11.600V1.400M.6 3.600L2.700 1.200l2.100 2.400" stroke="#90969a" stroke-width="1.200"/><path d="M8.700 .4v10.200M6.600 8.400l2.100 2.400 2.100-2.400" stroke="#4d5357" stroke-width="1.200"/></svg></th><th style="height:71px"><span style="left:7.4px;top:25px;font-size:16px;line-height:21px;color:#3d3d3d;transform:scaleX(1.024);transform-origin:0 50%;-webkit-text-stroke:0.55px currentColor;">Assunto</span><svg style="left:216.9px;top:30.6px" width="11.400" height="12" viewBox="0 0 11.400 12" fill="none"><path d="M2.700 11.600V1.400M.6 3.600L2.700 1.200l2.100 2.400" stroke="#90969a" stroke-width="1.200"/><path d="M8.700 .4v10.200M6.600 8.400l2.100 2.400 2.100-2.400" stroke="#4d5357" stroke-width="1.200"/></svg></th><th style="height:71px"></th></tr></thead>
<tbody>
<tr style="background:#f9f9f9"><td style="height:40.2px;border-bottom:1px solid #dde2e6;"><span style="left:7.8px;top:9px;font-size:16px;line-height:21px;color:#444;-webkit-text-stroke:0.3px currentColor;">Maria Ana Fidalgo</span></td><td style="height:40.2px;border-bottom:1px solid #dde2e6;"><span style="left:7.8px;top:9px;font-size:16px;line-height:21px;color:#444;-webkit-text-stroke:0.3px currentColor;">01-11-2024</span></td><td style="height:40.2px;border-bottom:1px solid #dde2e6;"><span style="left:7.8px;top:9px;font-size:16px;line-height:21px;color:#444;transform:scaleX(0.9865);transform-origin:0 50%;-webkit-text-stroke:0.3px currentColor;">09:00</span></td><td style="height:40.2px;border-bottom:1px solid #dde2e6;"><span style="left:7.8px;top:9px;font-size:16px;line-height:21px;color:#444;transform:scaleX(0.9865);transform-origin:0 50%;-webkit-text-stroke:0.3px currentColor;">09:30</span></td><td style="height:40.2px;border-bottom:1px solid #dde2e6;"></td><td style="height:40.2px;border-bottom:1px solid #dde2e6;"></td><td style="height:40.2px;border-bottom:1px solid #dde2e6;"></td><td style="height:40.2px;border-bottom:1px solid #dde2e6;"></td><td style="height:40.2px;border-bottom:1px solid #dde2e6;"><span style="left:7.8px;top:9px;font-size:16px;line-height:21px;color:#444;transform:scaleX(1.0271);transform-origin:0 50%;-webkit-text-stroke:0.3px currentColor;">Almoço</span></td><td style="height:40.2px;border-bottom:1px solid #dde2e6;"><svg style="left:56.1px;top:10.9px;color:#333;" width="18.4" height="18" viewBox="0 0 18.4 18" fill="none" stroke="currentColor" stroke-width="1.5" stroke-linecap="round" stroke-linejoin="round"><path d="M7.600 2.800H3.200A2.400 2.400 0 0 0 .8 5.200v9.600a2.400 2.400 0 0 0 2.400 2.400h9.600a2.400 2.400 0 0 0 2.400-2.400V10.600" stroke-width="1.600"/><path d="M13.800 1.400a1.700 1.700 0 0 1 2.400 0l.6.600a1.700 1.700 0 0 1 0 2.400L9 12.200l-3.600.8.800-3.600zM12.400 3l3 3" stroke-width="1.500"/></svg></td></tr>
<tr style="background:#fff"><td style="height:40.4px;border-bottom:1px solid #eceeef;"><span style="left:7.8px;top:8.8px;font-size:16px;line-height:21px;color:#444;-webkit-text-stroke:0.3px currentColor;">Maria Ana Fidalgo</span></td><td style="height:40.4px;border-bottom:1px solid #eceeef;"><span style="left:7.8px;top:8.8px;font-size:16px;line-height:21px;color:#444;-webkit-text-stroke:0.3px currentColor;">01-11-2024</span></td><td style="height:40.4px;border-bottom:1px solid #eceeef;"><span style="left:7.8px;top:8.8px;font-size:16px;line-height:21px;color:#444;transform:scaleX(1.0167);transform-origin:0 50%;-webkit-text-stroke:0.3px currentColor;">11:00</span></td><td style="height:40.4px;border-bottom:1px solid #eceeef;"><span style="left:7.8px;top:8.8px;font-size:16px;line-height:21px;color:#444;transform:scaleX(1.0167);transform-origin:0 50%;-webkit-text-stroke:0.3px currentColor;">11:30</span></td><td style="height:40.4px;border-bottom:1px solid #eceeef;"></td><td style="height:40.4px;border-bottom:1px solid #eceeef;"></td><td style="height:40.4px;border-bottom:1px solid #eceeef;"></td><td style="height:40.4px;border-bottom:1px solid #eceeef;"></td><td style="height:40.4px;border-bottom:1px solid #eceeef;"><span style="left:7.8px;top:8.8px;font-size:16px;line-height:21px;color:#444;-webkit-text-stroke:0.3px currentColor;">vaga 30 minutos</span></td><td style="height:40.4px;border-bottom:1px solid #eceeef;"><svg style="left:56.1px;top:10.7px;color:#333;" width="18.4" height="18" viewBox="0 0 18.4 18" fill="none" stroke="currentColor" stroke-width="1.5" stroke-linecap="round" stroke-linejoin="round"><path d="M7.600 2.800H3.200A2.400 2.400 0 0 0 .8 5.200v9.600a2.400 2.400 0 0 0 2.400 2.400h9.600a2.400 2.400 0 0 0 2.400-2.400V10.600" stroke-width="1.600"/><path d="M13.800 1.400a1.700 1.700 0 0 1 2.400 0l.6.600a1.700 1.700 0 0 1 0 2.400L9 12.200l-3.600.8.800-3.600zM12.400 3l3 3" stroke-width="1.500"/></svg></td></tr>
</tbody></table>
<span style="left:367.7px;top:755px;font-size:17.6px;line-height:22px;color:#444;transform:scaleX(0.9863);transform-origin:0 50%;-webkit-text-stroke:0.3px currentColor;">1 até 2 de 2 registos</span>
<a class="pg" style="left:1828px;top:771.9px;width:29px;height:31.1px;"></a><span style="left:1837.29px;top:777px;font-size:18px;line-height:24px;color:#333;font-weight:700;">1</span>
</section>
<section class="w">
<div class="panel" style="left:346.3px;top:893.9px;width:1533.7px;height:482.3px;"></div><div style="left:347.3px;top:894.9px;width:1531.7px;height:75.6px;background:#d1cfe2;border-radius:4px 4px 0 0;"></div><svg style="left:1018.7px;top:922.5px;color:#000;" width="22.4" height="19.6" viewBox="0 0 22.4 19.6" fill="none" stroke="currentColor" stroke-width="1.9" stroke-linecap="round" stroke-linejoin="round"><path d="M1 9.800h13M9 4l5.800 5.800L9 15.600M15.400 1h3.400a2.600 2.600 0 0 1 2.600 2.600v12.400a2.600 2.600 0 0 1-2.600 2.600h-3.400" stroke-width="1.900"/></svg><h3 style="left:1050.8px;top:918px;font-size:20px;line-height:26px;color:#000;transform:scaleX(0.9839);transform-origin:0 50%;-webkit-text-stroke:0.65px currentColor;">Lista De Check-In</h3><svg style="left:1827.8px;top:925.8px;color:#fff;" width="20" height="11.6" viewBox="0 0 20 11.6" fill="none" stroke="currentColor" stroke-width="2.1" stroke-linecap="round" stroke-linejoin="round"><path d="M1.400 10.200L10 1.600l8.600 8.600" stroke-width="2.200"/></svg>
<label style="left:367.7px;top:998px;font-size:17.6px;line-height:22px;color:#787878;transform:scaleX(0.949);transform-origin:0 50%;">Tipos de Sala de Espera</label>
<div class="inp" style="left:367.3px;top:1027.4px;width:599.5px;height:40.4px;"></div><span style="left:379.7px;top:1037px;font-size:16px;line-height:21px;color:#777;transform:scaleX(1.0346);transform-origin:0 50%;">(Todas)</span>
<label style="left:1005px;top:998px;font-size:17.6px;line-height:22px;color:#787878;transform:scaleX(0.9574);transform-origin:0 50%;">Centros</label>
<div class="sel" style="left:1004.5px;top:1027.4px;width:472.4px;height:43.5px;"></div><span style="left:1015.3px;top:1038px;font-size:16.4px;line-height:22px;color:#444;transform:scaleX(0.989);transform-origin:0 50%;-webkit-text-stroke:0.3px currentColor;">FMV / Faculdade de Medicina Veterinária</span><svg style="left:1458.3px;top:1045px" width="11.600" height="6.400" viewBox="0 0 11.600 6.400"><path d="M0 0h11.600L5.800 6.400z" fill="#888"/></svg>
<button class="btn-o" style="left:1631.3px;top:1030px;width:48.6px;height:48.4px;"></button><svg style="left:1644.49px;top:1043.99px;color:#53c6c2;" width="21.42" height="21.42" viewBox="0 0 21 21" fill="none" stroke="currentColor" stroke-width="1.8" stroke-linecap="round" stroke-linejoin="round"><path d="M2 8A8.800 8.800 0 0 1 18.400 6.600M19 13A8.800 8.800 0 0 1 2.600 14.400" stroke-width="1.800"/><path d="M19.800 1v6h-6M1.200 20v-6h6" stroke-width="1.800"/></svg>
<button class="btn" style="left:1683px;top:1030px;width:175px;height:48.4px;"></button><svg style="left:1732.3px;top:1045.3px;color:#fff;" width="19.8" height="19.8" viewBox="0 0 18 18" fill="none" stroke="currentColor" stroke-width="2" stroke-linecap="round" stroke-linejoin="round"><path d="M9 1v16M1 9h16" stroke-width="2.100" stroke-linecap="butt"/></svg><span style="left:1762.4px;top:1041px;font-size:20px;line-height:26px;color:#fff;font-weight:700;transform:scaleX(0.916);transform-origin:0 50%;">Novo</span>
<table style="left:367px;top:1132.7px;width:1491.8px">
<colgroup><col style="width:54.5px"><col style="width:129.1px"><col style="width:177px"><col style="width:127.8px"><col style="width:96.2px"><col style="width:145.8px"><col style="width:138.9px"><col style="width:184.2px"><col style="width:136.9px"><col style="width:175.2px"><col style="width:126.2px"></colgroup>
<thead><tr><th style="height:71.8px"></th><th style="height:71.8px"><span style="left:7.4px;top:24.3px;font-size:16px;line-height:21px;color:#3d3d3d;transform:scaleX(1.0119);transform-origin:0 50%;-webkit-text-stroke:0.55px currentColor;">Nº Cliente</span><svg style="left:110px;top:29.9px" width="11.400" height="12" viewBox="0 0 11.400 12" fill="none"><path d="M2.700 11.600V1.400M.6 3.600L2.700 1.200l2.100 2.400" stroke="#90969a" stroke-width="1.200"/><path d="M8.700 .4v10.200M6.600 8.400l2.100 2.400 2.100-2.400" stroke="#4d5357" stroke-width="1.200"/></svg></th><th style="height:71.8px"><span style="left:7.4px;top:24.3px;font-size:16px;line-height:21px;color:#3d3d3d;-webkit-text-stroke:0.55px currentColor;">Cliente</span><svg style="left:157.9px;top:29.9px" width="11.400" height="12" viewBox="0 0 11.400 12" fill="none"><path d="M2.700 11.600V1.400M.6 3.600L2.700 1.200l2.100 2.400" stroke="#90969a" stroke-width="1.200"/><path d="M8.700 .4v10.200M6.600 8.400l2.100 2.400 2.100-2.400" stroke="#4d5357" stroke-width="1.200"/></svg></th><th style="height:71.8px"><span style="left:7.4px;top:24.3px;font-size:16px;line-height:21px;color:#3d3d3d;transform:scaleX(1.0348);transform-origin:0 50%;-webkit-text-stroke:0.55px currentColor;">Nº Animal</span><svg style="left:108.7px;top:29.9px" width="11.400" height="12" viewBox="0 0 11.400 12" fill="none"><path d="M2.700 11.600V1.400M.6 3.600L2.700 1.200l2.100 2.400" stroke="#90969a" stroke-width="1.200"/><path d="M8.700 .4v10.200M6.600 8.400l2.100 2.400 2.100-2.400" stroke="#4d5357" stroke-width="1.200"/></svg></th><th style="height:71.8px"><span style="left:7.4px;top:24.3px;font-size:16px;line-height:21px;color:#3d3d3d;transform:scaleX(1.0121);transform-origin:0 50%;-webkit-text-stroke:0.55px currentColor;">Animal</span><svg style="left:77.1px;top:29.9px" width="11.400" height="12" viewBox="0 0 11.400 12" fill="none"><path d="M2.700 11.600V1.400M.6 3.600L2.700 1.200l2.100 2.400" stroke="#90969a" stroke-width="1.200"/><path d="M8.700 .4v10.200M6.600 8.400l2.100 2.400 2.100-2.400" stroke="#4d5357" stroke-width="1.200"/></svg></th><th style="height:71.8px"><span style="left:36.58px;top:24.3px;font-size:16px;line-height:21px;color:#3d3d3d;transform:scaleX(0.9844);transform-origin:50% 50%;-webkit-text-stroke:0.55px currentColor;">Data|Hora</span><svg style="left:126.7px;top:29.9px" width="11.400" height="12" viewBox="0 0 11.400 12" fill="none"><path d="M2.700 11.600V1.400M.6 3.600L2.700 1.200l2.100 2.400" stroke="#90969a" stroke-width="1.200"/><path d="M8.700 .4v10.200M6.600 8.400l2.100 2.400 2.100-2.400" stroke="#4d5357" stroke-width="1.200"/></svg></th><th style="height:71.8px"><span style="left:7.4px;top:24.3px;font-size:16px;line-height:21px;color:#3d3d3d;transform:scaleX(1.0108);transform-origin:0 50%;-webkit-text-stroke:0.55px currentColor;">Mensagem</span><svg style="left:119.8px;top:29.9px" width="11.400" height="12" viewBox="0 0 11.400 12" fill="none"><path d="M2.700 11.600V1.400M.6 3.600L2.700 1.200l2.100 2.400" stroke="#90969a" stroke-width="1.200"/><path d="M8.700 .4v10.200M6.600 8.400l2.100 2.400 2.100-2.400" stroke="#4d5357" stroke-width="1.200"/></svg></th><th style="height:71.8px"><span style="left:7.4px;top:24.3px;font-size:16px;line-height:21px;color:#3d3d3d;transform:scaleX(0.9755);transform-origin:0 50%;-webkit-text-stroke:0.55px currentColor;">Sala de espera</span><svg style="left:165.1px;top:29.9px" width="11.400" height="12" viewBox="0 0 11.400 12" fill="none"><path d="M2.700 11.600V1.400M.6 3.600L2.700 1.200l2.100 2.400" stroke="#90969a" stroke-width="1.200"/><path d="M8.700 .4v10.200M6.600 8.400l2.100 2.400 2.100-2.400" stroke="#4d5357" stroke-width="1.200"/></svg></th><th style="height:71.8px"><span style="left:7.4px;top:24.3px;font-size:16px;line-height:21px;color:#3d3d3d;transform:scaleX(1.0262);transform-origin:0 50%;-webkit-text-stroke:0.55px currentColor;">Veterinário</span><svg style="left:117.8px;top:29.9px" width="11.400" height="12" viewBox="0 0 11.400 12" fill="none"><path d="M2.700 11.600V1.400M.6 3.600L2.700 1.200l2.100 2.400" stroke="#90969a" stroke-width="1.200"/><path d="M8.700 .4v10.200M6.600 8.400l2.100 2.400 2.100-2.400" stroke="#4d5357" stroke-width="1.200"/></svg></th><th style="height:71.8px"><span style="left:7.4px;top:24.3px;font-size:16px;line-height:21px;color:#3d3d3d;transform:scaleX(0.9791);transform-origin:0 50%;-webkit-text-stroke:0.55px currentColor;">Colab. Entrada</span><svg style="left:156.1px;top:29.9px" width="11.400" height="12" viewBox="0 0 11.400 12" fill="none"><path d="M2.700 11.600V1.400M.6 3.600L2.700 1.200l2.100 2.400" stroke="#90969a" stroke-width="1.200"/><path d="M8.700 .4v10.200M6.600 8.400l2.100 2.400 2.100-2.400" stroke="#4d5357" stroke-width="1.200"/></svg></th><th style="height:71.8px"></th></tr></thead>
<tbody>
<tr style="background:#f9f9f9"><td style="height:58.3px;"><svg style="left:19.04px;top:18.32px;color:#444;" width="16.13" height="18.37" viewBox="0 0 14.4 16.4" fill="none" stroke="currentColor" stroke-width="1.4" stroke-linecap="round" stroke-linejoin="round"><circle cx="7.200" cy="4.200" r="3.300" stroke-width="1.400"/><path d="M.8 15.700v-1.100a4.300 4.300 0 0 1 4.300-4.300h4.200a4.300 4.300 0 0 1 4.300 4.300v1.100z" stroke-width="1.400"/><path d="M4.400 10.600v3M10 10.600v2.200M8.600 15.400v-1a1.400 1.400 0 0 1 2.800 0v1" stroke-width="1.100"/><circle cx="4.400" cy="14.200" r=".9" stroke-width="1"/></svg></td><td style="height:58.3px;"><span style="left:14px;top:17.5px;font-size:16px;line-height:21px;color:#444;-webkit-text-stroke:0.3px currentColor;">57787</span></td><td style="height:58.3px;"><span style="left:13.1px;top:17.5px;font-size:16px;line-height:21px;color:#444;transform:scaleX(0.9637);transform-origin:0 50%;-webkit-text-stroke:0.3px currentColor;">_Caroline</span></td><td style="height:58.3px;"><span style="left:13.6px;top:17.5px;font-size:16px;line-height:21px;color:#444;-webkit-text-stroke:0.3px currentColor;">79656</span></td><td style="height:58.3px;"><span style="left:14.6px;top:17.5px;font-size:16px;line-height:21px;color:#444;transform:scaleX(0.9544);transform-origin:0 50%;-webkit-text-stroke:0.3px currentColor;">_Kiko</span></td><td style="height:58.3px;"><span style="left:32.18px;top:8.5px;font-size:16px;line-height:21px;color:#333;font-weight:700;transform:scaleX(1.0386);transform-origin:50% 50%;">16-10-2024</span><span style="left:52.64px;top:27.5px;font-size:16px;line-height:21px;color:#333;font-weight:700;">16:20</span></td><td style="height:58.3px;"></td><td style="height:58.3px;"><span style="left:7.7px;top:17.5px;font-size:16px;line-height:21px;color:#444;transform:scaleX(0.9762);transform-origin:0 50%;-webkit-text-stroke:0.3px currentColor;">Aguarda Exame</span></td><td style="height:58.3px;"><span style="left:7.7px;top:17.5px;font-size:16px;line-height:21px;color:#444;transform:scaleX(0.9818);transform-origin:0 50%;-webkit-text-stroke:0.3px currentColor;">Caroline</span></td><td style="height:58.3px;"><span style="left:7.7px;top:17.5px;font-size:16px;line-height:21px;color:#444;transform:scaleX(0.9818);transform-origin:0 50%;-webkit-text-stroke:0.3px currentColor;">Caroline</span></td><td style="height:58.3px;"><svg style="left:24.5px;top:19.1px;color:#333;" width="18.8" height="18.4" viewBox="0 0 18.8 18.4" fill="none" stroke="currentColor" stroke-width="1.5" stroke-linecap="round" stroke-linejoin="round"><path d="M3.800 .9H2.400A1.400 1.400 0 0 0 1 2.300v4.100a4.700 4.700 0 0 0 9.400 0V2.300A1.400 1.400 0 0 0 9 .9H7.600"/><path d="M5.700 11.200v1.200a5 5 0 0 0 10 0V9.200"/><circle cx="15.900" cy="7.100" r="1.800"/></svg><svg style="left:56.1px;top:19.6px;color:#333;" width="18.4" height="18" viewBox="0 0 18.4 18" fill="none" stroke="currentColor" stroke-width="1.5" stroke-linecap="round" stroke-linejoin="round"><path d="M7.600 2.800H3.200A2.400 2.400 0 0 0 .8 5.200v9.600a2.400 2.400 0 0 0 2.400 2.400h9.600a2.400 2.400 0 0 0 2.400-2.400V10.600" stroke-width="1.600"/><path d="M13.800 1.400a1.700 1.700 0 0 1 2.400 0l.6.600a1.700 1.700 0 0 1 0 2.400L9 12.200l-3.600.8.800-3.600zM12.400 3l3 3" stroke-width="1.500"/></svg><svg style="left:86.2px;top:19.6px;color:#333;" width="15.6" height="18" viewBox="0 0 15.6 18" fill="none" stroke="currentColor" stroke-width="1.5" stroke-linecap="round" stroke-linejoin="round"><path d="M.8 3.400h14M5 3.200l.8-1.700a1 1 0 0 1 .9-.6h2.200a1 1 0 0 1 .9.600l.8 1.700M2.200 3.600l.9 12a1.700 1.700 0 0 0 1.700 1.600h6a1.700 1.700 0 0 0 1.700-1.600l.9-12" stroke-width="1.600"/></svg></td></tr>
</tbody></table>
<span style="left:367.7px;top:1285px;font-size:17.6px;line-height:22px;color:#444;transform:scaleX(0.9863);transform-origin:0 50%;-webkit-text-stroke:0.3px currentColor;">1 até 1 de 1 registos</span>
<a class="pg" style="left:1828px;top:1302.8px;width:29px;height:31.1px;"></a><span style="left:1837.29px;top:1308px;font-size:18px;line-height:24px;color:#333;font-weight:700;">1</span>
</section>
<section class="w">
<div class="panel" style="left:346.3px;top:1424px;width:1533.7px;height:419.7px;"></div><div style="left:347.3px;top:1425px;width:1531.7px;height:72.6px;background:#9eadd0;border-radius:4px 4px 0 0;"></div><svg style="left:1011.1px;top:1453.7px;color:#000;" width="22.8" height="19.6" viewBox="0 0 22.8 19.6" fill="none" stroke="currentColor" stroke-width="1.9" stroke-linecap="round" stroke-linejoin="round"><path d="M8.400 9.800h13M16 4l5.800 5.800L16 15.600M7 1H3.600A2.600 2.600 0 0 0 1 3.600v12.400a2.600 2.600 0 0 0 2.600 2.600H7" stroke-width="1.900"/></svg><h3 style="left:1043.6px;top:1448px;font-size:20px;line-height:26px;color:#000;transform:scaleX(0.981);transform-origin:0 50%;-webkit-text-stroke:0.65px currentColor;">Lista De Check-Out</h3><svg style="left:1827.8px;top:1456.8px;color:#fff;" width="20" height="11.6" viewBox="0 0 20 11.6" fill="none" stroke="currentColor" stroke-width="2.1" stroke-linecap="round" stroke-linejoin="round"><path d="M1.400 10.200L10 1.600l8.600 8.600" stroke-width="2.200"/></svg>
<button class="btn-o" style="left:1809.4px;top:1521.5px;width:48.6px;height:49px;"></button><svg style="left:1822.59px;top:1535.79px;color:#53c6c2;" width="21.42" height="21.42" viewBox="0 0 21 21" fill="none" stroke="currentColor" stroke-width="1.8" stroke-linecap="round" stroke-linejoin="round"><path d="M2 8A8.800 8.800 0 0 1 18.400 6.600M19 13A8.800 8.800 0 0 1 2.600 14.400" stroke-width="1.800"/><path d="M19.800 1v6h-6M1.200 20v-6h6" stroke-width="1.800"/></svg>
<table style="left:367px;top:1599.9px;width:1491.8px">
<colgroup><col style="width:160.5px"><col style="width:275.3px"><col style="width:158.7px"><col style="width:118px"><col style="width:234.6px"><col style="width:170.6px"><col style="width:216.7px"><col style="width:157.4px"></colgroup>
<thead><tr><th style="height:72.1px"><span style="left:7.4px;top:24.1px;font-size:16px;line-height:21px;color:#3d3d3d;transform:scaleX(1.0119);transform-origin:0 50%;-webkit-text-stroke:0.55px currentColor;">Nº Cliente</span><svg style="left:141.4px;top:29.7px" width="11.400" height="12" viewBox="0 0 11.400 12" fill="none"><path d="M2.700 11.600V1.400M.6 3.600L2.700 1.200l2.100 2.400" stroke="#90969a" stroke-width="1.200"/><path d="M8.700 .4v10.200M6.600 8.400l2.100 2.400 2.100-2.400" stroke="#4d5357" stroke-width="1.200"/></svg></th><th style="height:72.1px"><span style="left:7.4px;top:24.1px;font-size:16px;line-height:21px;color:#3d3d3d;-webkit-text-stroke:0.55px currentColor;">Cliente</span><svg style="left:256.2px;top:29.7px" width="11.400" height="12" viewBox="0 0 11.400 12" fill="none"><path d="M2.700 11.600V1.400M.6 3.600L2.700 1.200l2.100 2.400" stroke="#90969a" stroke-width="1.200"/><path d="M8.700 .4v10.200M6.600 8.400l2.100 2.400 2.100-2.400" stroke="#4d5357" stroke-width="1.200"/></svg></th><th style="height:72.1px"><span style="left:7.4px;top:24.1px;font-size:16px;line-height:21px;color:#3d3d3d;transform:scaleX(1.0348);transform-origin:0 50%;-webkit-text-stroke:0.55px currentColor;">Nº Animal</span><svg style="left:139.6px;top:29.7px" width="11.400" height="12" viewBox="0 0 11.400 12" fill="none"><path d="M2.700 11.600V1.400M.6 3.600L2.700 1.200l2.100 2.400" stroke="#90969a" stroke-width="1.200"/><path d="M8.700 .4v10.200M6.600 8.400l2.100 2.400 2.100-2.400" stroke="#4d5357" stroke-width="1.200"/></svg></th><th style="height:72.1px"><span style="left:7.4px;top:24.1px;font-size:16px;line-height:21px;color:#3d3d3d;transform:scaleX(1.0121);transform-origin:0 50%;-webkit-text-stroke:0.55px currentColor;">Animal</span><svg style="left:98.9px;top:29.7px" width="11.400" height="12" viewBox="0 0 11.400 12" fill="none"><path d="M2.700 11.600V1.400M.6 3.600L2.700 1.200l2.100 2.400" stroke="#90969a" stroke-width="1.200"/><path d="M8.700 .4v10.200M6.600 8.400l2.100 2.400 2.100-2.400" stroke="#4d5357" stroke-width="1.200"/></svg></th><th style="height:72.1px"><span style="left:80.98px;top:24.1px;font-size:16px;line-height:21px;color:#3d3d3d;transform:scaleX(0.9844);transform-origin:50% 50%;-webkit-text-stroke:0.55px currentColor;">Data|Hora</span><svg style="left:215.5px;top:29.7px" width="11.400" height="12" viewBox="0 0 11.400 12" fill="none"><path d="M2.700 11.600V1.400M.6 3.600L2.700 1.200l2.100 2.400" stroke="#90969a" stroke-width="1.200"/><path d="M8.700 .4v10.200M6.600 8.400l2.100 2.400 2.100-2.400" stroke="#4d5357" stroke-width="1.200"/></svg></th><th style="height:72.1px"><span style="left:7.4px;top:24.1px;font-size:16px;line-height:21px;color:#3d3d3d;transform:scaleX(1.0262);transform-origin:0 50%;-webkit-text-stroke:0.55px currentColor;">Veterinário</span><svg style="left:151.5px;top:29.7px" width="11.400" height="12" viewBox="0 0 11.400 12" fill="none"><path d="M2.700 11.600V1.400M.6 3.600L2.700 1.200l2.100 2.400" stroke="#90969a" stroke-width="1.200"/><path d="M8.700 .4v10.200M6.600 8.400l2.100 2.400 2.100-2.400" stroke="#4d5357" stroke-width="1.200"/></svg></th><th style="height:72.1px"><span style="left:7.4px;top:24.1px;font-size:16px;line-height:21px;color:#3d3d3d;transform:scaleX(0.9791);transform-origin:0 50%;-webkit-text-stroke:0.55px currentColor;">Colab. Entrada</span><svg style="left:197.6px;top:29.7px" width="11.400" height="12" viewBox="0 0 11.400 12" fill="none"><path d="M2.700 11.600V1.400M.6 3.600L2.700 1.200l2.100 2.400" stroke="#90969a" stroke-width="1.200"/><path d="M8.700 .4v10.200M6.600 8.400l2.100 2.400 2.100-2.400" stroke="#4d5357" stroke-width="1.200"/></svg></th><th style="height:72.1px"></th></tr></thead>
<tbody>
<tr style="background:#f9f9f9"><td style="height:58.2px;"><span style="left:13.6px;top:17px;font-size:16px;line-height:21px;color:#333;font-weight:700;transform:scaleX(1.0226);transform-origin:0 50%;">57753</span></td><td style="height:58.2px;"><span style="left:13.9px;top:17px;font-size:16px;line-height:21px;color:#444;transform:scaleX(0.909);transform-origin:0 50%;-webkit-text-stroke:0.3px currentColor;">CAROLINE TESTE</span></td><td style="height:58.2px;"><span style="left:13.3px;top:17px;font-size:16px;line-height:21px;color:#333;font-weight:700;transform:scaleX(1.0319);transform-origin:0 50%;">79611</span></td><td style="height:58.2px;"><span style="left:13.9px;top:17px;font-size:16px;line-height:21px;color:#444;transform:scaleX(1.0234);transform-origin:0 50%;-webkit-text-stroke:0.3px currentColor;">teste</span></td><td style="height:58.2px;"><span style="left:61.98px;top:9px;font-size:16px;line-height:21px;color:#333;font-weight:700;transform:scaleX(1.0386);transform-origin:50% 50%;">16-10-2024</span><span style="left:82.44px;top:27px;font-size:16px;line-height:21px;color:#333;font-weight:700;">16:09</span><svg style="left:203.5px;top:19.9px;color:#444;" width="18.4" height="17.6" viewBox="0 0 18.4 17.6" fill="none" stroke="currentColor" stroke-width="1.5" stroke-linecap="round" stroke-linejoin="round"><path d="M2.400 8.800a7.600 7.600 0 1 1 2.300 5.500" stroke-width="1.600"/><path d="M.9 4.200l1.300 4.600 4.400-1.500" stroke-width="1.500"/><path d="M10 4.800v4.200l2.800 1.800" stroke-width="1.500"/></svg></td><td style="height:58.2px;"><span style="left:8px;top:17px;font-size:16px;line-height:21px;color:#444;transform:scaleX(0.9818);transform-origin:0 50%;-webkit-text-stroke:0.3px currentColor;">Caroline</span></td><td style="height:58.2px;"><span style="left:7.7px;top:17px;font-size:16px;line-height:21px;color:#444;transform:scaleX(0.9818);transform-origin:0 50%;-webkit-text-stroke:0.3px currentColor;">Caroline</span></td><td style="height:58.2px;"><svg style="left:17.4px;top:19.3px;color:#333;" width="23.4" height="18.4" viewBox="0 0 23.4 18.4" fill="none" stroke="currentColor" stroke-width="1.6" stroke-linecap="round" stroke-linejoin="round"><circle cx="7.400" cy="1.900" r="1.700" fill="currentColor" stroke="none"/><path d="M3.200 17.600l3-4.200.9-3.400M5 5.800L2.200 7.400 1.400 10M5 5.800l2.800-.6 1.400 3.400 2.200 1.200M7.100 5.800l-1.300 4 2.900 3.200.9 4.600" stroke-width="1.700"/><path d="M14 9.200h8M19 6l3.200 3.200L19 12.400" stroke-width="1.600"/></svg><svg style="left:52.5px;top:20.5px;color:#333;" width="15.6" height="16.4" viewBox="0 0 15.6 16.4" fill="none" stroke="currentColor" stroke-width="1.6" stroke-linecap="round" stroke-linejoin="round"><path d="M2.600 .8H13a1.800 1.800 0 0 1 1.800 1.800v8.400l-4.600 4.600H2.600a1.800 1.800 0 0 1-1.800-1.800V2.600A1.800 1.800 0 0 1 2.600.8z" stroke-width="1.600"/><path d="M14.800 11h-3a1.600 1.600 0 0 0-1.600 1.600v3z" fill="currentColor" stroke="none"/><path d="M3.600 4.400v.2M3.600 8.200v.2M3.600 12v.2" stroke-width="1.300"/></svg><svg style="left:80.8px;top:21.2px;color:#333;" width="18" height="15.2" viewBox="0 0 18 15.2" fill="none" stroke="currentColor" stroke-width="1.6" stroke-linecap="round" stroke-linejoin="round"><path d="M6 2h11.400M6 7.600h11.400M6 13.200h11.400" stroke-width="1.600" stroke-linecap="butt"/><circle cx="1.900" cy="2" r="1.600" fill="currentColor" stroke="none"/><circle cx="1.900" cy="7.600" r="1.600" fill="currentColor" stroke="none"/><circle cx="1.900" cy="13.200" r="1.600" fill="currentColor" stroke="none"/></svg><svg style="left:110.5px;top:19.1px;color:#ff1a2e;" width="20" height="18.6" viewBox="0 0 20 18.6" fill="none" stroke="currentColor" stroke-width="1.6" stroke-linecap="round" stroke-linejoin="round"><path d="M.9 8h18.200M5.400 7.800L8.700 .8M14.600 7.800L11.300 .8M2.500 8.200l1.600 7.900a1.600 1.600 0 0 0 1.600 1.300h8.600a1.600 1.600 0 0 0 1.600-1.300l1.600-7.900"/><path d="M7.200 11v3.200M10 11v3.200M12.800 11v3.200" stroke-width="1.400"/></svg><span style="left:134.46px;top:14px;font-size:22.6px;line-height:29px;color:#ff1a2e;-webkit-text-stroke:0.25px currentColor;">!</span></td></tr>
</tbody></table>
<span style="left:367.7px;top:1753px;font-size:17.6px;line-height:22px;color:#444;transform:scaleX(0.9863);transform-origin:0 50%;-webkit-text-stroke:0.3px currentColor;">1 até 1 de 1 registos</span>
<a class="pg" style="left:1828px;top:1770.7px;width:29px;height:31.1px;"></a><span style="left:1837.29px;top:1776px;font-size:18px;line-height:24px;color:#333;font-weight:700;">1</span>
</section>
</main>
<footer class="w">
<div style="left:306px;top:2089px;width:1614px;height:2px;background:#fff;"></div>
<span style="left:356.5px;top:2023px;font-size:16.4px;line-height:22px;color:#555;transform:scaleX(1.0044);transform-origin:0 50%;">Copyright</span>
<span style="left:431.2px;top:2023px;font-size:16.4px;line-height:22px;color:#444;font-weight:700;transform:scaleX(0.9484);transform-origin:0 50%;">GuruVet</span>
<span style="left:495.8px;top:2023px;font-size:16.4px;line-height:22px;color:#555;transform:scaleX(1.0045);transform-origin:0 50%;">© 2015-2024</span>
<a style="left:1021.6px;top:2023px;font-size:16.4px;line-height:22px;color:#444;font-weight:700;transform:scaleX(0.9271);transform-origin:0 50%;">MODERNO</a>
<div style="left:1110.3px;top:2032.6px;width:3.2px;height:3.2px;background:#53c6c2;border-radius:50%;"></div>
<a style="left:1130.6px;top:2023px;font-size:16.4px;line-height:22px;color:#888;transform:scaleX(0.9212);transform-origin:0 50%;">CLÁSSICO</a>
<span style="left:1643.5px;top:2023px;font-size:16.4px;line-height:22px;color:#555;transform:scaleX(0.9846);transform-origin:0 50%;">GuruVet Versão</span>
<span style="left:1762.3px;top:2023px;font-size:16.4px;line-height:22px;color:#444;font-weight:700;transform:scaleX(1.0253);transform-origin:0 50%;">2.1.8</span>
</footer>
<svg style="left:1830.4px;top:1924.1px;color:#8b8b8b;" width="34" height="34" viewBox="0 0 34 34" fill="none" stroke="currentColor" stroke-width="2.8" stroke-linecap="round" stroke-linejoin="round"><circle cx="17" cy="17" r="15.400" stroke-width="2.600"/><path d="M17 25.600V9.400M10.200 15.800L17 9l6.800 6.800" stroke-width="2.800"/></svg>
<div style="left:1820.2px;top:1989.3px;width:79.8px;height:79.8px;background:#3d9ca0;border-radius:6px;box-shadow:0 8px 26px rgba(40,70,70,.2);"></div>
<svg style="left:1840.200px;top:2017.300px" width="40" height="33" viewBox="0 0 40 33"><rect x="0" y="0" width="40" height="20.400" rx="10.200" fill="#000"/><path d="M24 23.600h8v8z" fill="#000"/></svg>
</body>
</html>
